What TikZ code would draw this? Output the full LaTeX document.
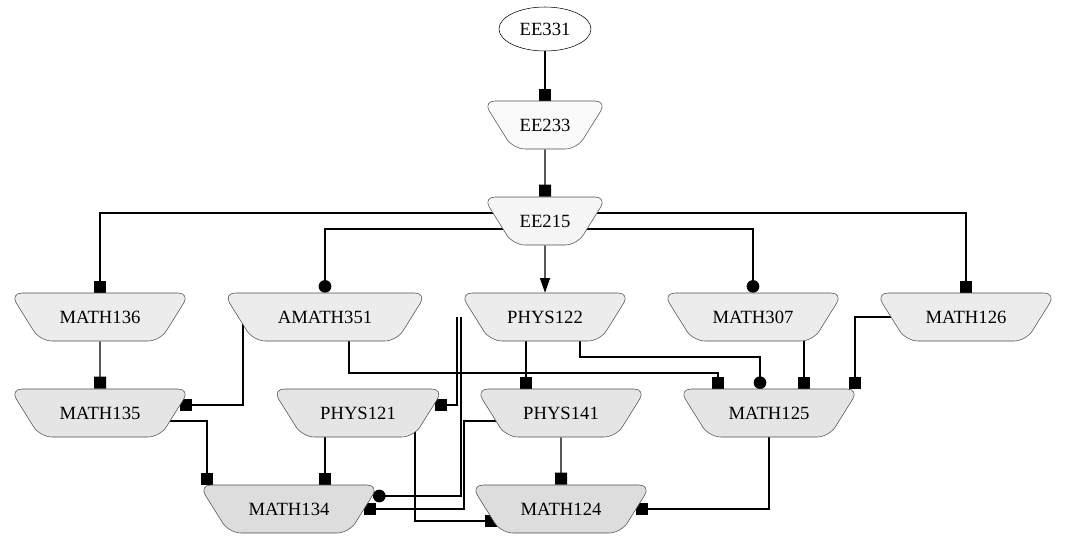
\documentclass[tikz,border=0pt]{standalone}
\usepackage{fontspec}
\setmainfont{Liberation Serif}
\usetikzlibrary{positioning,arrows.meta,shapes.geometric,calc,backgrounds}
\definecolor{shadeone}{RGB}{250,250,250}
\definecolor{shadetwo}{RGB}{245,245,245}
\definecolor{shadethree}{RGB}{236,236,236}
\definecolor{shadefour}{RGB}{229,229,229}
\definecolor{shadefive}{RGB}{221,221,221}

\begin{document}
\begin{tikzpicture}[
    x=0.75pt,
    y=-0.75pt,
    root/.style={
        draw,
        ellipse,
        fill=white,
        font=\fontsize{14}{16}\selectfont,
        minimum width=69pt,
        minimum height=33pt,
        inner sep=0pt
    },
    course/.style={
        draw=black!70,
        trapezium,
        shape border rotate=180,
        trapezium left angle=58,
        trapezium right angle=58,
        trapezium stretches body=true,
        rounded corners=9pt,
        fill=#1,
        font=\fontsize{14}{16}\selectfont,
        text height=11pt,
        text depth=2pt,
        inner xsep=0pt,
        inner ysep=11.5pt,
        minimum width=135pt
    },
    direct/.style={
        line width=0.8pt
    },
    boxhead/.style={
        direct,
        -{Square[length=9pt,width=9pt]}
    },
    dothead/.style={
        direct,
        -{Circle[length=9.5pt]}
    },
    normalhead/.style={
        direct,
        -{Triangle[length=11pt,width=7.5pt]}
    }
]
\useasboundingbox (0,0) rectangle (1066,539);

% ============================================================
% TOP CHAIN
% ============================================================

\node[root] (ee331) at (545,29) {EE331};

\node[course=shadeone, minimum width=93pt] (ee233) at (545,125) {EE233};

\node[course=shadetwo, minimum width=93pt] (ee215) at (545,221) {EE215};

% ============================================================
% THIRD ROW
% ============================================================

\node[course=shadethree] (math136) at (100,317) {MATH136};

\node[course=shadethree, minimum width=152.5pt] (amath351) at (325,317) {AMATH351};

\node[course=shadethree, minimum width=127.5pt] (phys122) at (545,317) {PHYS122};

\node[course=shadethree] (math307) at (753,317) {MATH307};

\node[course=shadethree] (math126) at (966,317) {MATH126};

% ============================================================
% FOURTH ROW
% ============================================================

\node[course=shadefour] (math135) at (100,413) {MATH135};

\node[course=shadefour, minimum width=128.5pt] (phys121) at (358,413) {PHYS121};

\node[course=shadefour, minimum width=127.5pt] (phys141) at (561,413) {PHYS141};

\node[course=shadefour] (math125) at (769,413) {MATH125};

% ============================================================
% BOTTOM ROW
% ============================================================

\node[course=shadefive] (math134) at (289,509) {MATH134};

\node[course=shadefive] (math124) at (561,509) {MATH124};

\coordinate (stubA) at ($(phys122)+(-88,0)$);
\coordinate (stubB) at ($(phys122)+(-84,0)$);

% ============================================================
% CONNECTORS
% ============================================================

\begin{scope}[on background layer]

% top chain
\draw[boxhead] (ee331) -- (ee233);
\draw[boxhead] (ee233) -- (ee215);

% EE215 fan-out
\draw[boxhead] ($(ee215)+(0,-8)$) -| (math136);
\draw[dothead] ($(ee215)+(0,8)$) -| (amath351);
\draw[normalhead] (ee215) -- (phys122);
\draw[dothead] ($(ee215)+(0,8)$) -| (math307);
\draw[boxhead] ($(ee215)+(0,-8)$) -| (math126);

% into the fourth row
\draw[boxhead] (math136) -- (math135);
\draw[boxhead] ($(amath351)+(-82,0)$) |- ($(math135)+(80,-8)$);
\draw[boxhead] ($(amath351)+(24,0)$) -- ++(0,56) -| ($(math125)+(-51,-24)$);
\draw[boxhead] ($(phys122)+(-19,0)$) -- ($(phys141)+(-35,-24)$);
\draw[dothead] ($(phys122)+(35,0)$) -- ++(0,40) -| ($(math125)+(-9,-24)$);
\draw[boxhead] ($(math307)+(51,0)$) -- ($(math125)+(35,-24)$);
\draw[boxhead] (math126) -| ($(math125)+(86,-24)$);
\draw[boxhead] (stubA) |- ($(phys121)+(77,-8)$);

% into the bottom row
\draw[boxhead] ($(math135)+(0,8)$) -| ($(math134)+(-82,-24)$);
\draw[boxhead] ($(phys121)+(-33,0)$) -- ($(math134)+(36,-24)$);
\draw[dothead] (stubB) |- ($(math134)+(84,-13)$);
\draw[boxhead] ($(phys141)+(0,8)$) -- ($(phys141)+(-97,8)$) |- (math134);
\draw[boxhead] ($(phys121)+(57,0)$) |- ($(math124)+(-64,12)$);
\draw[boxhead] (phys141) -- (math124);
\draw[boxhead] (math125) |- (math124);

\end{scope}

\end{tikzpicture}
\end{document}
